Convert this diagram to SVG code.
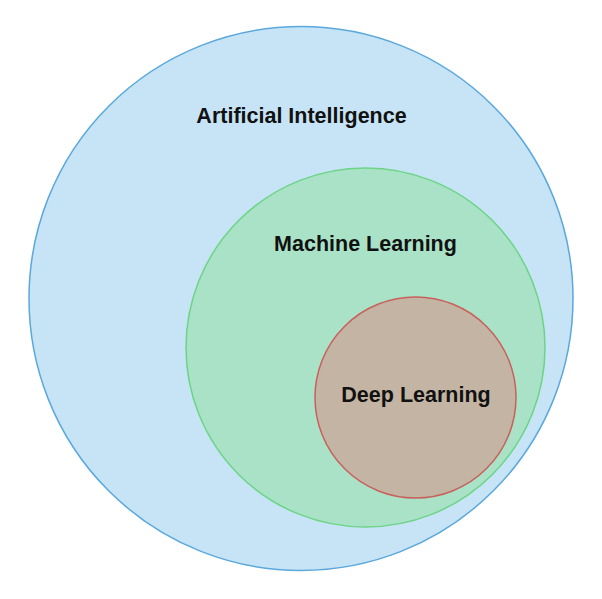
<svg xmlns="http://www.w3.org/2000/svg" width="602" height="599" viewBox="0 0 602 599">
<style>
.lbl{font-family:"Liberation Sans",Arial,sans-serif;font-weight:bold;font-size:21.5px;fill:#111111;text-anchor:middle}
</style>
<rect width="602" height="599" fill="#ffffff"/>
<g id="ai">
<circle cx="301" cy="298.5" r="272" fill="#c6e4f6" stroke="#5aa8dc" stroke-width="1.5"/>
<text class="lbl" x="301.5" y="123">Artificial Intelligence</text>
</g>
<g id="ml">
<circle cx="365.5" cy="347.5" r="179.5" fill="#a9e2c6" stroke="#6dd486" stroke-width="1.5"/>
<text class="lbl" x="365.5" y="251">Machine Learning</text>
</g>
<g id="dl">
<circle cx="415.5" cy="397.5" r="100.5" fill="#c4b4a3" stroke="#c8605c" stroke-width="1.5"/>
<text class="lbl" x="416" y="402">Deep Learning</text>
</g>
<g id="connectors"></g>
</svg>
